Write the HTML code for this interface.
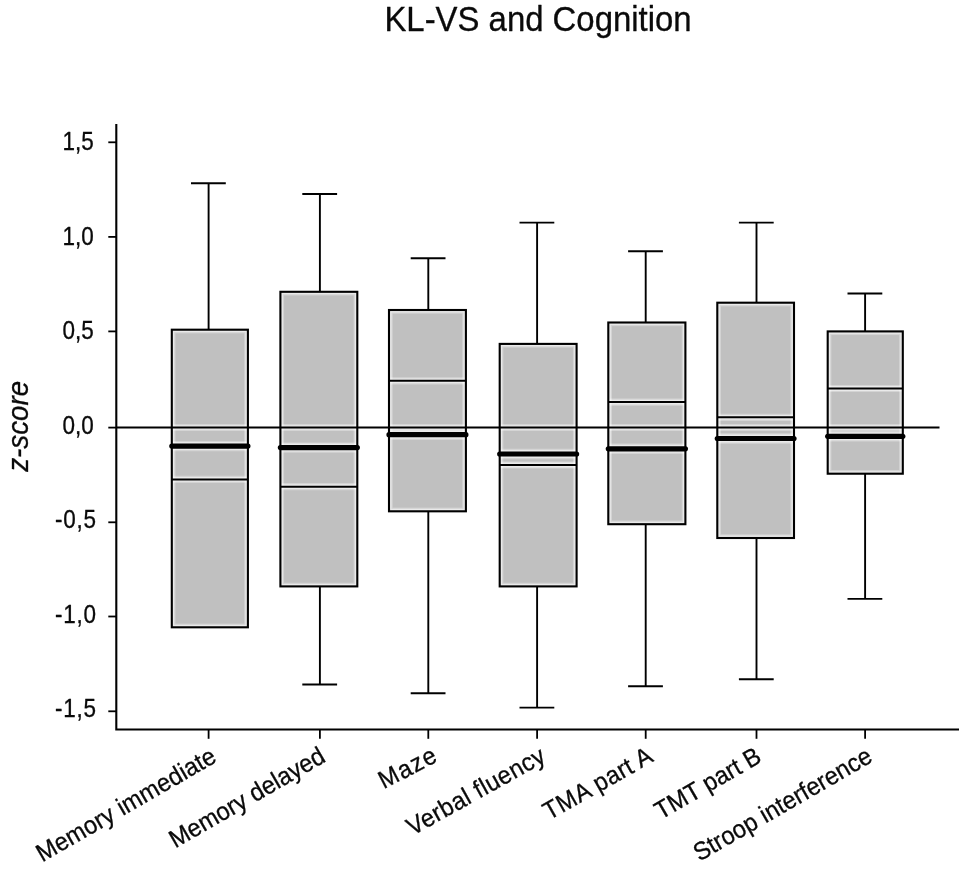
<!DOCTYPE html>
<html><head><meta charset="utf-8"><title>KL-VS and Cognition</title>
<style>
html,body{margin:0;padding:0;background:#fff;}
svg{display:block}
text{font-family:"Liberation Sans",Arial,sans-serif;fill:#0a0a0a;stroke:#0a0a0a;stroke-width:0.3px;stroke-linejoin:round}
</style></head><body>
<svg style="filter:grayscale(1) blur(0.4px)" width="961" height="876" viewBox="0 0 961 876">
<rect width="961" height="876" fill="#fff"/>
<text transform="translate(538 30.6) scale(1 1.05)" font-size="32.9" text-anchor="middle">KL-VS and Cognition</text>
<clipPath id="c0"><rect x="171.8" y="329.7" width="76.1" height="297.6"/></clipPath>
<rect x="171.8" y="329.7" width="76.1" height="297.6" fill="#c0c0c0"/>
<g clip-path="url(#c0)" stroke="#fff" fill="none"><g stroke-opacity="0.32"><rect x="171.8" y="329.7" width="76.1" height="297.6" stroke-width="7.3"/><line x1="171.8" y1="479.4" x2="247.9" y2="479.4" stroke-width="7.2"/><line x1="171.8" y1="446.1" x2="247.9" y2="446.1" stroke-width="10.4"/><line x1="171.8" y1="427.5" x2="247.9" y2="427.5" stroke-width="7.1"/></g><g stroke-opacity="0.5"><rect x="171.8" y="329.7" width="76.1" height="297.6" stroke-width="4.9"/><line x1="171.8" y1="479.4" x2="247.9" y2="479.4" stroke-width="4.8"/><line x1="171.8" y1="446.1" x2="247.9" y2="446.1" stroke-width="8.0"/><line x1="171.8" y1="427.5" x2="247.9" y2="427.5" stroke-width="4.7"/></g></g>
<g stroke="#000" stroke-width="1.9" fill="none"><line x1="208.6" y1="183.3" x2="208.6" y2="329.7"/><line x1="191.0" y1="183.3" x2="225.8" y2="183.3"/></g>
<rect x="171.8" y="329.7" width="76.1" height="297.6" fill="none" stroke="#000" stroke-width="2.1"/>
<line x1="171.8" y1="479.4" x2="247.9" y2="479.4" stroke="#000" stroke-width="2"/>
<clipPath id="c1"><rect x="280.4" y="291.8" width="76.9" height="294.6"/></clipPath>
<rect x="280.4" y="291.8" width="76.9" height="294.6" fill="#c0c0c0"/>
<g clip-path="url(#c1)" stroke="#fff" fill="none"><g stroke-opacity="0.32"><rect x="280.4" y="291.8" width="76.9" height="294.6" stroke-width="7.3"/><line x1="280.4" y1="486.7" x2="357.3" y2="486.7" stroke-width="7.2"/><line x1="280.4" y1="447.6" x2="357.3" y2="447.6" stroke-width="10.4"/><line x1="280.4" y1="427.5" x2="357.3" y2="427.5" stroke-width="7.1"/></g><g stroke-opacity="0.5"><rect x="280.4" y="291.8" width="76.9" height="294.6" stroke-width="4.9"/><line x1="280.4" y1="486.7" x2="357.3" y2="486.7" stroke-width="4.8"/><line x1="280.4" y1="447.6" x2="357.3" y2="447.6" stroke-width="8.0"/><line x1="280.4" y1="427.5" x2="357.3" y2="427.5" stroke-width="4.7"/></g></g>
<g stroke="#000" stroke-width="1.9" fill="none"><line x1="319.9" y1="194.0" x2="319.9" y2="291.8"/><line x1="302.3" y1="194.0" x2="337.1" y2="194.0"/><line x1="319.9" y1="586.4" x2="319.9" y2="684.5"/><line x1="302.3" y1="684.5" x2="337.1" y2="684.5"/></g>
<rect x="280.4" y="291.8" width="76.9" height="294.6" fill="none" stroke="#000" stroke-width="2.1"/>
<line x1="280.4" y1="486.7" x2="357.3" y2="486.7" stroke="#000" stroke-width="2"/>
<clipPath id="c2"><rect x="389.0" y="310.0" width="76.9" height="201.3"/></clipPath>
<rect x="389.0" y="310.0" width="76.9" height="201.3" fill="#c0c0c0"/>
<g clip-path="url(#c2)" stroke="#fff" fill="none"><g stroke-opacity="0.32"><rect x="389.0" y="310.0" width="76.9" height="201.3" stroke-width="7.3"/><line x1="389.0" y1="380.8" x2="465.9" y2="380.8" stroke-width="7.2"/><line x1="389.0" y1="434.7" x2="465.9" y2="434.7" stroke-width="10.4"/><line x1="389.0" y1="427.5" x2="465.9" y2="427.5" stroke-width="7.1"/></g><g stroke-opacity="0.5"><rect x="389.0" y="310.0" width="76.9" height="201.3" stroke-width="4.9"/><line x1="389.0" y1="380.8" x2="465.9" y2="380.8" stroke-width="4.8"/><line x1="389.0" y1="434.7" x2="465.9" y2="434.7" stroke-width="8.0"/><line x1="389.0" y1="427.5" x2="465.9" y2="427.5" stroke-width="4.7"/></g></g>
<g stroke="#000" stroke-width="1.9" fill="none"><line x1="428.3" y1="258.2" x2="428.3" y2="310.0"/><line x1="410.7" y1="258.2" x2="445.5" y2="258.2"/><line x1="428.3" y1="511.3" x2="428.3" y2="693.3"/><line x1="410.7" y1="693.3" x2="445.5" y2="693.3"/></g>
<rect x="389.0" y="310.0" width="76.9" height="201.3" fill="none" stroke="#000" stroke-width="2.1"/>
<line x1="389.0" y1="380.8" x2="465.9" y2="380.8" stroke="#000" stroke-width="2"/>
<clipPath id="c3"><rect x="499.7" y="343.9" width="76.9" height="242.5"/></clipPath>
<rect x="499.7" y="343.9" width="76.9" height="242.5" fill="#c0c0c0"/>
<g clip-path="url(#c3)" stroke="#fff" fill="none"><g stroke-opacity="0.32"><rect x="499.7" y="343.9" width="76.9" height="242.5" stroke-width="7.3"/><line x1="499.7" y1="465.0" x2="576.6" y2="465.0" stroke-width="7.2"/><line x1="499.7" y1="454.0" x2="576.6" y2="454.0" stroke-width="10.4"/><line x1="499.7" y1="427.5" x2="576.6" y2="427.5" stroke-width="7.1"/></g><g stroke-opacity="0.5"><rect x="499.7" y="343.9" width="76.9" height="242.5" stroke-width="4.9"/><line x1="499.7" y1="465.0" x2="576.6" y2="465.0" stroke-width="4.8"/><line x1="499.7" y1="454.0" x2="576.6" y2="454.0" stroke-width="8.0"/><line x1="499.7" y1="427.5" x2="576.6" y2="427.5" stroke-width="4.7"/></g></g>
<g stroke="#000" stroke-width="1.9" fill="none"><line x1="537.1" y1="222.6" x2="537.1" y2="343.9"/><line x1="519.5" y1="222.6" x2="554.3" y2="222.6"/><line x1="537.1" y1="586.4" x2="537.1" y2="707.6"/><line x1="519.5" y1="707.6" x2="554.3" y2="707.6"/></g>
<rect x="499.7" y="343.9" width="76.9" height="242.5" fill="none" stroke="#000" stroke-width="2.1"/>
<line x1="499.7" y1="465.0" x2="576.6" y2="465.0" stroke="#000" stroke-width="2"/>
<clipPath id="c4"><rect x="608.3" y="322.5" width="77.1" height="201.7"/></clipPath>
<rect x="608.3" y="322.5" width="77.1" height="201.7" fill="#c0c0c0"/>
<g clip-path="url(#c4)" stroke="#fff" fill="none"><g stroke-opacity="0.32"><rect x="608.3" y="322.5" width="77.1" height="201.7" stroke-width="7.3"/><line x1="608.3" y1="402.1" x2="685.4" y2="402.1" stroke-width="7.2"/><line x1="608.3" y1="448.8" x2="685.4" y2="448.8" stroke-width="10.4"/><line x1="608.3" y1="427.5" x2="685.4" y2="427.5" stroke-width="7.1"/></g><g stroke-opacity="0.5"><rect x="608.3" y="322.5" width="77.1" height="201.7" stroke-width="4.9"/><line x1="608.3" y1="402.1" x2="685.4" y2="402.1" stroke-width="4.8"/><line x1="608.3" y1="448.8" x2="685.4" y2="448.8" stroke-width="8.0"/><line x1="608.3" y1="427.5" x2="685.4" y2="427.5" stroke-width="4.7"/></g></g>
<g stroke="#000" stroke-width="1.9" fill="none"><line x1="645.7" y1="251.2" x2="645.7" y2="322.5"/><line x1="628.1" y1="251.2" x2="662.9" y2="251.2"/><line x1="645.7" y1="524.2" x2="645.7" y2="686.3"/><line x1="628.1" y1="686.3" x2="662.9" y2="686.3"/></g>
<rect x="608.3" y="322.5" width="77.1" height="201.7" fill="none" stroke="#000" stroke-width="2.1"/>
<line x1="608.3" y1="402.1" x2="685.4" y2="402.1" stroke="#000" stroke-width="2"/>
<clipPath id="c5"><rect x="717.3" y="302.7" width="76.7" height="235.3"/></clipPath>
<rect x="717.3" y="302.7" width="76.7" height="235.3" fill="#c0c0c0"/>
<g clip-path="url(#c5)" stroke="#fff" fill="none"><g stroke-opacity="0.32"><rect x="717.3" y="302.7" width="76.7" height="235.3" stroke-width="7.3"/><line x1="717.3" y1="417.3" x2="794.0" y2="417.3" stroke-width="7.2"/><line x1="717.3" y1="438.5" x2="794.0" y2="438.5" stroke-width="10.4"/><line x1="717.3" y1="427.5" x2="794.0" y2="427.5" stroke-width="7.1"/></g><g stroke-opacity="0.5"><rect x="717.3" y="302.7" width="76.7" height="235.3" stroke-width="4.9"/><line x1="717.3" y1="417.3" x2="794.0" y2="417.3" stroke-width="4.8"/><line x1="717.3" y1="438.5" x2="794.0" y2="438.5" stroke-width="8.0"/><line x1="717.3" y1="427.5" x2="794.0" y2="427.5" stroke-width="4.7"/></g></g>
<g stroke="#000" stroke-width="1.9" fill="none"><line x1="756.5" y1="222.6" x2="756.5" y2="302.7"/><line x1="738.9" y1="222.6" x2="773.7" y2="222.6"/><line x1="756.5" y1="538.0" x2="756.5" y2="679.3"/><line x1="738.9" y1="679.3" x2="773.7" y2="679.3"/></g>
<rect x="717.3" y="302.7" width="76.7" height="235.3" fill="none" stroke="#000" stroke-width="2.1"/>
<line x1="717.3" y1="417.3" x2="794.0" y2="417.3" stroke="#000" stroke-width="2"/>
<clipPath id="c6"><rect x="827.7" y="331.4" width="75.1" height="142.3"/></clipPath>
<rect x="827.7" y="331.4" width="75.1" height="142.3" fill="#c0c0c0"/>
<g clip-path="url(#c6)" stroke="#fff" fill="none"><g stroke-opacity="0.32"><rect x="827.7" y="331.4" width="75.1" height="142.3" stroke-width="7.3"/><line x1="827.7" y1="388.5" x2="902.8" y2="388.5" stroke-width="7.2"/><line x1="827.7" y1="436.3" x2="902.8" y2="436.3" stroke-width="10.4"/><line x1="827.7" y1="427.5" x2="902.8" y2="427.5" stroke-width="7.1"/></g><g stroke-opacity="0.5"><rect x="827.7" y="331.4" width="75.1" height="142.3" stroke-width="4.9"/><line x1="827.7" y1="388.5" x2="902.8" y2="388.5" stroke-width="4.8"/><line x1="827.7" y1="436.3" x2="902.8" y2="436.3" stroke-width="8.0"/><line x1="827.7" y1="427.5" x2="902.8" y2="427.5" stroke-width="4.7"/></g></g>
<g stroke="#000" stroke-width="1.9" fill="none"><line x1="865.1" y1="293.5" x2="865.1" y2="331.4"/><line x1="847.5" y1="293.5" x2="882.3" y2="293.5"/><line x1="865.1" y1="473.7" x2="865.1" y2="598.9"/><line x1="847.5" y1="598.9" x2="882.3" y2="598.9"/></g>
<rect x="827.7" y="331.4" width="75.1" height="142.3" fill="none" stroke="#000" stroke-width="2.1"/>
<line x1="827.7" y1="388.5" x2="902.8" y2="388.5" stroke="#000" stroke-width="2"/>
<line x1="116.3" y1="427.5" x2="939.5" y2="427.5" stroke="#000" stroke-width="1.9"/>
<line x1="171.8" y1="446.1" x2="247.9" y2="446.1" stroke="#000" stroke-width="5.2" stroke-linecap="round"/>
<line x1="280.4" y1="447.6" x2="357.3" y2="447.6" stroke="#000" stroke-width="5.2" stroke-linecap="round"/>
<line x1="389.0" y1="434.7" x2="465.9" y2="434.7" stroke="#000" stroke-width="5.2" stroke-linecap="round"/>
<line x1="499.7" y1="454.0" x2="576.6" y2="454.0" stroke="#000" stroke-width="5.2" stroke-linecap="round"/>
<line x1="608.3" y1="448.8" x2="685.4" y2="448.8" stroke="#000" stroke-width="5.2" stroke-linecap="round"/>
<line x1="717.3" y1="438.5" x2="794.0" y2="438.5" stroke="#000" stroke-width="5.2" stroke-linecap="round"/>
<line x1="827.7" y1="436.3" x2="902.8" y2="436.3" stroke="#000" stroke-width="5.2" stroke-linecap="round"/>
<path d="M116.3 123.9V729.5H959" fill="none" stroke="#000" stroke-width="2.1"/>
<line x1="108.3" y1="142.3" x2="116.3" y2="142.3" stroke="#000" stroke-width="1.8"/><text transform="translate(93.7 150.0) scale(1 1.11)" font-size="22.5" text-anchor="end">1,5</text>
<line x1="108.3" y1="236.9" x2="116.3" y2="236.9" stroke="#000" stroke-width="1.8"/><text transform="translate(93.7 244.6) scale(1 1.11)" font-size="22.5" text-anchor="end">1,0</text>
<line x1="108.3" y1="331.4" x2="116.3" y2="331.4" stroke="#000" stroke-width="1.8"/><text transform="translate(93.7 339.1) scale(1 1.11)" font-size="22.5" text-anchor="end">0,5</text>
<line x1="108.3" y1="427.6" x2="116.3" y2="427.6" stroke="#000" stroke-width="1.8"/><text transform="translate(93.7 433.7) scale(1 1.11)" font-size="22.5" text-anchor="end">0,0</text>
<line x1="108.3" y1="522.3" x2="116.3" y2="522.3" stroke="#000" stroke-width="1.8"/><text transform="translate(96.7 528.3) scale(1 1.11)" font-size="22.5" text-anchor="end" letter-spacing="0.75">-0,5</text>
<line x1="108.3" y1="616.5" x2="116.3" y2="616.5" stroke="#000" stroke-width="1.8"/><text transform="translate(96.7 622.8) scale(1 1.11)" font-size="22.5" text-anchor="end" letter-spacing="0.75">-1,0</text>
<line x1="108.3" y1="711.3" x2="116.3" y2="711.3" stroke="#000" stroke-width="1.8"/><text transform="translate(96.7 717.4) scale(1 1.11)" font-size="22.5" text-anchor="end" letter-spacing="0.75">-1,5</text>
<line x1="208.6" y1="729.5" x2="208.6" y2="738.8" stroke="#000" stroke-width="1.8"/><text transform="translate(218.1 761.0) rotate(-30) scale(1 1.06)" font-size="23.7" text-anchor="end" letter-spacing="0.1">Memory immediate</text>
<line x1="319.9" y1="729.5" x2="319.9" y2="738.8" stroke="#000" stroke-width="1.8"/><text transform="translate(326.9 761.0) rotate(-30) scale(1 1.06)" font-size="23.7" text-anchor="end">Memory delayed</text>
<line x1="428.3" y1="729.5" x2="428.3" y2="738.8" stroke="#000" stroke-width="1.8"/><text transform="translate(439.5 760.4) rotate(-27.5) scale(1 1.06)" font-size="23.7" text-anchor="end" letter-spacing="1.2">Maze</text>
<line x1="537.1" y1="729.5" x2="537.1" y2="738.8" stroke="#000" stroke-width="1.8"/><text transform="translate(547.4 760.8) rotate(-29.1) scale(1 1.06)" font-size="23.7" text-anchor="end" letter-spacing="0.4">Verbal fluency</text>
<line x1="645.7" y1="729.5" x2="645.7" y2="738.8" stroke="#000" stroke-width="1.8"/><text transform="translate(655.0 760.6) rotate(-29.5) scale(1 1.06)" font-size="23.7" text-anchor="end" letter-spacing="0.45">TMA part A</text>
<line x1="756.5" y1="729.5" x2="756.5" y2="738.8" stroke="#000" stroke-width="1.8"/><text transform="translate(763.0 761.0) rotate(-30) scale(1 1.06)" font-size="23.7" text-anchor="end">TMT part B</text>
<line x1="865.1" y1="729.5" x2="865.1" y2="738.8" stroke="#000" stroke-width="1.8"/><text transform="translate(873.9 761.0) rotate(-30) scale(1 1.06)" font-size="23.7" text-anchor="end">Stroop interference</text>
<text transform="translate(27.6 426.3) rotate(-90) scale(1 1.05)" font-size="27.8" font-style="italic" text-anchor="middle">z-score</text>
</svg></body></html>
